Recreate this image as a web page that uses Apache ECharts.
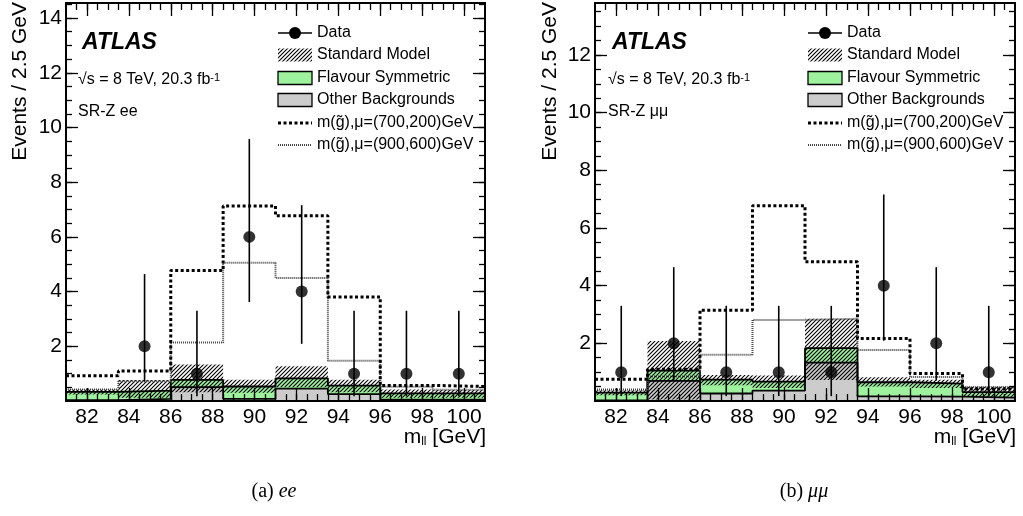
<!DOCTYPE html>
<html><head><meta charset="utf-8">
<script src="https://cdn.jsdelivr.net/npm/echarts@6/dist/echarts.min.js"></script>
<style>html,body{margin:0;padding:0;background:#fff}#c{width:1023px;height:516px}</style>
</head><body><div id="c"></div>
<script>
// ---------------- data ----------------
const binEdges = [81, 83.5, 86, 88.5, 91, 93.5, 96, 98.5, 101];
const xTickLabels = [82, 84, 86, 88, 90, 92, 94, 96, 98, 100];
const eeYTickLabels = [2, 4, 6, 8, 10, 12, 14];
const mmYTickLabels = [2, 4, 6, 8, 10, 12];

// (a) ee
const eeData      = [0, 2, 1, 6, 4, 1, 1, 1];
const eeDataErrLo = [0, 0.71, 0.17, 3.62, 2.09, 0.17, 0.17, 0.17];
const eeDataErrHi = [0, 4.64, 3.30, 9.58, 7.16, 3.30, 3.30, 3.30];
const eeOther     = [0.03, 0.08, 0.51, 0.08, 0.45, 0.25, 0.05, 0.05];
const eeFlavSym   = [0.30, 0.30, 0.26, 0.45, 0.38, 0.31, 0.23, 0.23];
const eeSMLo      = [0.24, 0.12, 0.32, 0.30, 0.50, 0.32, 0.12, 0.12];
const eeSMHi      = [0.43, 0.77, 1.33, 0.78, 1.27, 0.78, 0.42, 0.40];
const eeSig700    = [0.92, 1.10, 4.77, 7.13, 6.77, 3.80, 0.57, 0.53];
const eeSig900    = [0.42, 0.72, 2.14, 5.05, 4.50, 1.47, 0.52, 0.41];

// (b) mumu
const mmData      = [1, 2, 1, 1, 1, 4, 2, 1];
const mmDataErrLo = [0.17, 0.71, 0.17, 0.17, 0.17, 2.09, 0.71, 0.17];
const mmDataErrHi = [3.30, 4.64, 3.30, 3.30, 3.30, 7.16, 4.64, 3.30];
const mmOther     = [0.02, 0.70, 0.26, 0.36, 1.33, 0.16, 0.15, 0.12];
const mmFlavSym   = [0.27, 0.35, 0.48, 0.31, 0.50, 0.49, 0.45, 0.19];
const mmSMLo      = [0.20, 0.05, 0.55, 0.45, 0.73, 0.50, 0.45, 0.15];
const mmSMHi      = [0.38, 2.08, 0.90, 0.88, 2.85, 0.82, 0.74, 0.50];
const mmSig700    = [0.75, 1.10, 3.15, 6.77, 4.83, 2.17, 0.95, 0.42];
const mmSig900    = [0.40, 0.85, 1.60, 2.81, 2.85, 1.77, 0.83, 0.48];

// ---------------- style ----------------
const F = "'Liberation Sans', Arial, Helvetica, sans-serif";
const S = "'Liberation Serif', 'Times New Roman', serif";
const GREEN = '#9ef29e', GRAY = '#cccccc';

function makeHatch() {
  const s = 4, c = document.createElement('canvas');
  c.width = s; c.height = s;
  const g = c.getContext('2d');
  g.strokeStyle = '#000'; g.lineWidth = 1.1;
  g.beginPath();
  g.moveTo(-1, s + 1); g.lineTo(s + 1, -1);
  g.moveTo(-1, 1); g.lineTo(1, -1);
  g.moveTo(s - 1, s + 1); g.lineTo(s + 1, s - 1);
  g.stroke();
  return c;
}
const hatch = { image: makeHatch(), repeat: 'repeat' };

const panels = [
  { left: 66, width: 419, ymax: 14.55, yLabels: eeYTickLabels, n: eeData, lo: eeDataErrLo, hi: eeDataErrHi,
    other: eeOther, fs: eeFlavSym, smLo: eeSMLo, smHi: eeSMHi, s700: eeSig700, s900: eeSig900,
    ox: 0, region: 'SR-Z ee', cap: '(a) {it|ee}' },
  { left: 595, width: 420, ymax: 13.8, yLabels: mmYTickLabels, n: mmData, lo: mmDataErrLo, hi: mmDataErrHi,
    other: mmOther, fs: mmFlavSym, smLo: mmSMLo, smHi: mmSMHi, s700: mmSig700, s900: mmSig900,
    ox: 530, region: 'SR-Z μμ', cap: '(b) {it|μμ}' }
];

const grids = [], xAxes = [], yAxes = [], series = [], graphics = [];
const xMinor = []; for (let v = 81.5; v < 101; v += 0.5) xMinor.push(v);
const centers = binEdges.slice(0, -1).map((e, i) => (e + binEdges[i + 1]) / 2);

function tick(vals, len) {
  return { show: true, inside: true, length: len, customValues: vals, lineStyle: { color: '#000', width: 1.3 } };
}
const axLine = { show: true, onZero: false, lineStyle: { color: '#000', width: 2 } };
const noLine = { show: false, onZero: false };

function rectSeries(gi, lo, hi, style, z) {
  return { type: 'custom', xAxisIndex: gi * 4, yAxisIndex: gi * 4, z: z, silent: true,
    encode: { x: [0, 1], y: [2, 3] },
    data: lo.map((l, i) => [binEdges[i], binEdges[i + 1], l, hi[i]]),
    renderItem: function (params, api) {
      const a = api.coord([api.value(0), api.value(2)]);
      const b = api.coord([api.value(1), api.value(3)]);
      return { type: 'rect', shape: { x: a[0], y: b[1], width: b[0] - a[0], height: a[1] - b[1] },
               style: Object.assign({}, style) };
    } };
}
function stepSeries(gi, vals, lineStyle, z) {
  const d = vals.map((v, i) => [binEdges[i], v]);
  d.push([binEdges[binEdges.length - 1], vals[vals.length - 1]]);
  return { type: 'line', xAxisIndex: gi * 4, yAxisIndex: gi * 4, step: 'end', data: d, symbol: 'none',
           lineStyle: lineStyle, z: z, silent: true, animation: false };
}
function txt(x, y, s, o) {
  o = o || {};
  const al = o.align || 'left', va = o.va || 'middle';
  const st = { text: s, fill: '#000', fontFamily: o.fontFamily || F, fontSize: o.fontSize || 16,
    fontWeight: o.fontWeight || 'normal', fontStyle: o.fontStyle || 'normal',
    align: al, verticalAlign: va, textAlign: al, textVerticalAlign: va };
  if (o.rich) st.rich = o.rich;
  return { type: 'text', x: x, y: y, rotation: o.rotation || 0, silent: true, z: 100, style: st };
}

panels.forEach((p, gi) => {
  grids.push({ left: p.left, top: 3, width: p.width, height: 398 });
  const xb = { type: 'value', gridIndex: gi, min: 81, max: 101, z: 10, splitLine: { show: false } };
  xAxes.push(Object.assign({}, xb, { position: 'bottom', axisLine: axLine, axisTick: tick(xTickLabels, 13),
    axisLabel: { show: true, customValues: xTickLabels, margin: 6, color: '#000', fontSize: 21, fontFamily: F } }));
  xAxes.push(Object.assign({}, xb, { position: 'bottom', axisLine: noLine, axisTick: tick(xMinor, 7), axisLabel: { show: false } }));
  xAxes.push(Object.assign({}, xb, { position: 'top', axisLine: axLine, axisTick: tick(xTickLabels, 13), axisLabel: { show: false } }));
  xAxes.push(Object.assign({}, xb, { position: 'top', axisLine: noLine, axisTick: tick(xMinor, 7), axisLabel: { show: false } }));

  const yMinor = []; for (let v = 0.5; v < p.ymax; v += 0.5) yMinor.push(v);
  const yb = { type: 'value', gridIndex: gi, min: 0, max: p.ymax, z: 10, splitLine: { show: false } };
  yAxes.push(Object.assign({}, yb, { position: 'left', axisLine: axLine, axisTick: tick(p.yLabels, 12),
    axisLabel: { show: true, customValues: p.yLabels, margin: 4, color: '#000', fontSize: 21, fontFamily: F } }));
  yAxes.push(Object.assign({}, yb, { position: 'left', axisLine: noLine, axisTick: tick(yMinor, 6), axisLabel: { show: false } }));
  yAxes.push(Object.assign({}, yb, { position: 'right', axisLine: axLine, axisTick: tick(p.yLabels, 12), axisLabel: { show: false } }));
  yAxes.push(Object.assign({}, yb, { position: 'right', axisLine: noLine, axisTick: tick(yMinor, 6), axisLabel: { show: false } }));

  const zeros = p.other.map(() => 0);
  const total = p.other.map((o, i) => o + p.fs[i]);
  series.push(rectSeries(gi, zeros, p.other, { fill: GRAY }, 2));
  series.push(rectSeries(gi, p.other, total, { fill: GREEN }, 3));
  series.push(rectSeries(gi, p.smLo, p.smHi, { fill: hatch }, 4));
  series.push(stepSeries(gi, p.other, { color: '#000', width: 1.8 }, 5));
  series.push(stepSeries(gi, total, { color: '#000', width: 1.8 }, 5));
  series.push(stepSeries(gi, p.s900, { color: '#444', width: 2, type: [1, 1] }, 6));
  series.push(stepSeries(gi, p.s700, { color: '#000', width: 3, type: [3, 2.5] }, 7));
  series.push({ type: 'custom', xAxisIndex: gi * 4, yAxisIndex: gi * 4, z: 8, silent: true,
    encode: { x: 0, y: [1, 2] },
    data: centers.map((c, i) => [c, p.lo[i], p.hi[i], p.n[i]]).filter(d => d[3] > 0),
    renderItem: function (params, api) {
      const a = api.coord([api.value(0), api.value(1)]);
      const b = api.coord([api.value(0), api.value(2)]);
      return { type: 'line', shape: { x1: a[0], y1: a[1], x2: b[0], y2: b[1] }, style: { stroke: '#000', lineWidth: 1.6 } };
    } });
  series.push({ type: 'scatter', xAxisIndex: gi * 4, yAxisIndex: gi * 4, z: 9, silent: true,
    data: centers.map((c, i) => [c, p.n[i]]).filter(d => d[1] > 0),
    symbol: 'circle', symbolSize: 12, itemStyle: { color: '#000' } });

  // ---- annotations ----
  const ox = p.ox;
  graphics.push(txt(82 + ox, 43, 'ATLAS', { fontSize: 23, fontWeight: 'bold', fontStyle: 'italic' }));
  graphics.push(txt(78 + ox, 80, '√s = 8 TeV, 20.3 fb{sup|-1}', { fontSize: 16,
    rich: { sup: { fontSize: 11, fontFamily: F, verticalAlign: 'top' } } }));
  graphics.push(txt(78 + ox, 112, p.region, { fontSize: 16 }));

  // legend
  const x0 = 278 + ox, x1 = 312 + ox, xt = 317 + ox;
  const rows = [33, 55, 78, 100, 123, 145];
  const labels = ['Data', 'Standard Model', 'Flavour Symmetric', 'Other Backgrounds',
                  'm(g̃),μ=(700,200)GeV', 'm(g̃),μ=(900,600)GeV'];
  labels.forEach((l, i) => graphics.push(txt(xt, rows[i], l, { fontSize: 16 })));
  graphics.push({ type: 'line', silent: true, z: 100, shape: { x1: x0, y1: rows[0], x2: x1, y2: rows[0] }, style: { stroke: '#000', lineWidth: 1.5 } });
  graphics.push({ type: 'circle', silent: true, z: 101, shape: { cx: (x0 + x1) / 2, cy: rows[0], r: 6 }, style: { fill: '#000' } });
  graphics.push({ type: 'rect', silent: true, z: 100, shape: { x: x0, y: rows[1] - 6.5, width: x1 - x0, height: 13 }, style: { fill: hatch } });
  graphics.push({ type: 'rect', silent: true, z: 100, shape: { x: x0, y: rows[2] - 6.5, width: x1 - x0, height: 13 }, style: { fill: GREEN, stroke: '#000', lineWidth: 1.3 } });
  graphics.push({ type: 'rect', silent: true, z: 100, shape: { x: x0, y: rows[3] - 6.5, width: x1 - x0, height: 13 }, style: { fill: GRAY, stroke: '#000', lineWidth: 1.3 } });
  graphics.push({ type: 'line', silent: true, z: 100, shape: { x1: x0, y1: rows[4], x2: x1, y2: rows[4] }, style: { stroke: '#000', lineWidth: 3, lineDash: [3, 2.5] } });
  graphics.push({ type: 'line', silent: true, z: 100, shape: { x1: x0, y1: rows[5], x2: x1, y2: rows[5] }, style: { stroke: '#444', lineWidth: 2, lineDash: [1, 1] } });

  // axis titles
  graphics.push(txt(20 + ox, 2, 'Events / 2.5 GeV', { fontSize: 21, align: 'right', rotation: Math.PI / 2 }));
  graphics.push(txt(p.left + p.width + 1, 437, 'm{sub|ll} [GeV]', { fontSize: 21, align: 'right',
    rich: { sub: { fontSize: 12, fontFamily: F, verticalAlign: 'bottom' } } }));
  // caption
  graphics.push(txt(274 + ox, 492, p.cap, { fontFamily: S, fontSize: 20, align: 'center',
    rich: { it: { fontFamily: S, fontSize: 20, fontStyle: 'italic' } } }));
});

const chart = echarts.init(document.getElementById('c'), null, { renderer: 'canvas' });
chart.setOption({
  animation: false,
  backgroundColor: '#fff',
  grid: grids, xAxis: xAxes, yAxis: yAxes, series: series, graphic: graphics
});
</script></body></html>
